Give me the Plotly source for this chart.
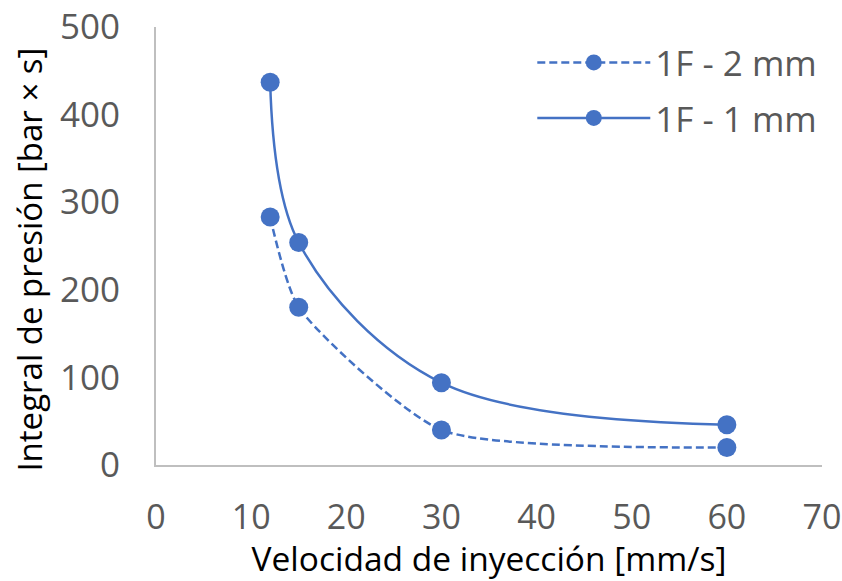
import plotly.graph_objects as go

x_vals = [12, 15, 30, 60]
y_2mm = [283, 180, 40, 20]
y_1mm = [437, 254, 94, 46]
names = ["1F - 2 mm", "1F - 1 mm"]
x_ticks = [0, 10, 20, 30, 40, 50, 60, 70]
y_ticks = [0, 100, 200, 300, 400, 500]
x_title = "Velocidad de inyección [mm/s]"
y_title = "Integral de presión [bar × s]"

blue = "#4472C4"
font_family = "Open Sans"
fs = 34

fig = go.Figure()
fig.add_trace(go.Scatter(
    x=x_vals, y=y_2mm, name=names[0], mode="lines+markers", legendgroup="a",
    line=dict(color=blue, width=2.5, dash="8px,4px", shape="spline", smoothing=0.6),
    marker=dict(color=blue, size=19),
))
fig.add_trace(go.Scatter(
    x=x_vals, y=y_1mm, name=names[1], mode="lines+markers", legendgroup="b",
    line=dict(color=blue, width=2.5, shape="spline", smoothing=1),
    marker=dict(color=blue, size=19),
))

fig.update_layout(
    width=842, height=581,
    margin=dict(l=156, r=20, t=27, b=116),
    paper_bgcolor="white", plot_bgcolor="white",
    font=dict(family=font_family, size=fs, color="#595959"),
    showlegend=True,
    legend=dict(x=0.565, y=0.986, xanchor="left", yanchor="top",
                bgcolor="rgba(0,0,0,0)", itemwidth=113, traceorder="grouped",
                font=dict(size=35, color="#595959"), tracegroupgap=7),
    xaxis=dict(range=[0, 70], tickvals=x_ticks, showgrid=False, zeroline=False,
               showline=True, linecolor="#BFBFBF", linewidth=2, automargin=False,
               ticks="outside", ticklen=21, tickcolor="rgba(0,0,0,0)",
               ticklabeloverflow="allow",
               title=dict(text=x_title,
                          font=dict(size=33.5, color="#000000"), standoff=13)),
    yaxis=dict(range=[0, 500], tickvals=y_ticks, showgrid=False, zeroline=False,
               showline=True, linecolor="#BFBFBF", linewidth=2, automargin=False,
               ticks="outside", ticklen=27, tickcolor="rgba(0,0,0,0)",
               ticklabeloverflow="allow", tickfont=dict(size=35)),
    annotations=[dict(
        text=y_title, xref="paper", yref="paper", x=-0.19, y=0.47,
        xanchor="center", yanchor="middle", textangle=-90, showarrow=False,
        font=dict(size=33, color="#000000"),
    )],
)

fig.write_html("out.html")
